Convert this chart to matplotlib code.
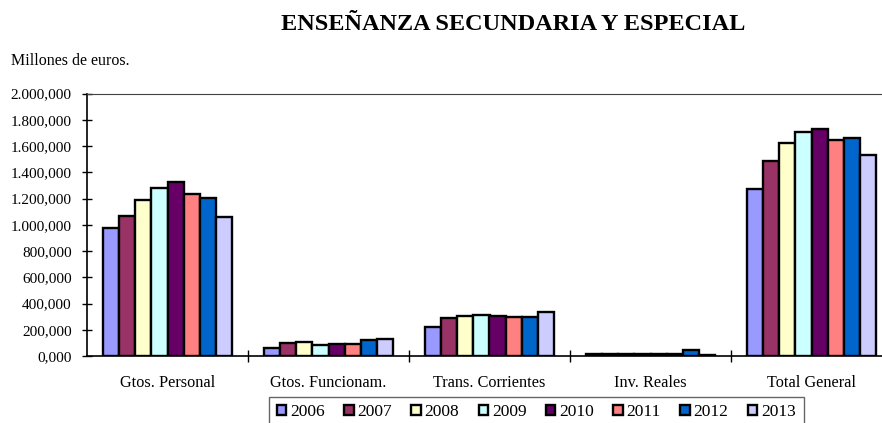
import matplotlib
matplotlib.use("Agg")
import matplotlib.pyplot as plt
import numpy as np

plt.rcParams["font.family"] = ["Liberation Serif", "DejaVu Serif"]

# Millones de euros
categorias = ["Gtos. Personal", "Gtos. Funcionam.", "Trans. Corrientes",
              "Inv. Reales", "Total General"]
anios = ["2006", "2007", "2008", "2009", "2010", "2011", "2012", "2013"]

v2006 = [976, 64, 218, 12, 1275]
v2007 = [1068, 100, 287, 18, 1482]
v2008 = [1188, 105, 307, 18, 1625]
v2009 = [1283, 87, 314, 16, 1704]
v2010 = [1323, 95, 304, 12, 1729]
v2011 = [1234, 90, 294, 18, 1643]
v2012 = [1201, 120, 299, 46, 1663]
v2013 = [1061, 128, 333, 10, 1528]

colores = ["#9999FF", "#993366", "#FFFFCC", "#CCFFFF",
           "#660066", "#FF8080", "#0066CC", "#CCCCFF"]

yticks = list(range(0, 2001, 200))

series = [v2006, v2007, v2008, v2009, v2010, v2011, v2012, v2013]

fig = plt.figure(figsize=(8.82, 4.23), dpi=100)
ax = fig.add_axes([87 / 882, 1 - 356 / 423, 1 - 87 / 882, (356 - 93.5) / 423])

x = np.arange(len(categorias))
ancho = 0.1
for i, (serie, col, anio) in enumerate(zip(series, colores, anios)):
    ax.bar(x - 0.35 + i * ancho, serie, width=ancho, color=col,
           edgecolor="black", linewidth=1.7, label=anio, zorder=3)

ax.set_xlim(-0.5, -0.5 + 795 / 161)
ax.set_ylim(0, 2000)

def fmt(v):
    s = f"{v:,.3f}"
    return s.replace(",", "X").replace(".", ",").replace("X", ".")

ax.set_yticks(yticks)
ax.set_yticklabels([fmt(v) for v in yticks])
ax.tick_params(axis="y", direction="inout", length=7, width=1, pad=7.5,
               labelsize=11)

ax.set_xticks(x[:-1] + 0.5)
ax.set_xticklabels([])
ax.set_xticks(x, minor=True)
ax.set_xticklabels(categorias, minor=True)
ax.tick_params(axis="x", which="major", direction="inout", length=8, width=1)
ax.tick_params(axis="x", which="minor", length=0, pad=14, labelsize=11.7)

ax.spines["right"].set_visible(False)
ax.spines["top"].set_color("#404040")
ax.spines["left"].set_linewidth(1.2)
ax.spines["bottom"].set_linewidth(1.2)

fig.text(513 / 882, 1 - 24 / 423, "ENSEÑANZA SECUNDARIA Y ESPECIAL",
         ha="center", va="center", fontsize=17.5, fontweight="bold")
fig.text(11 / 882, 1 - 61 / 423, "Millones de euros.", ha="left",
         va="center", fontsize=11.5)

leg = fig.legend(loc="upper left", bbox_to_anchor=(269 / 882, 1 - 396.5 / 423),
                 borderaxespad=0, ncol=8, fontsize=12.5, handlelength=0.55,
                 handleheight=0.55, handletextpad=0.22, columnspacing=1.11,
                 borderpad=0.45, fancybox=False, frameon=True)
leg.get_frame().set_edgecolor("#404040")
leg.get_frame().set_linewidth(1)
for h in leg.legend_handles:
    h.set_linewidth(1.7)

fig.savefig("out.png", dpi=100)
